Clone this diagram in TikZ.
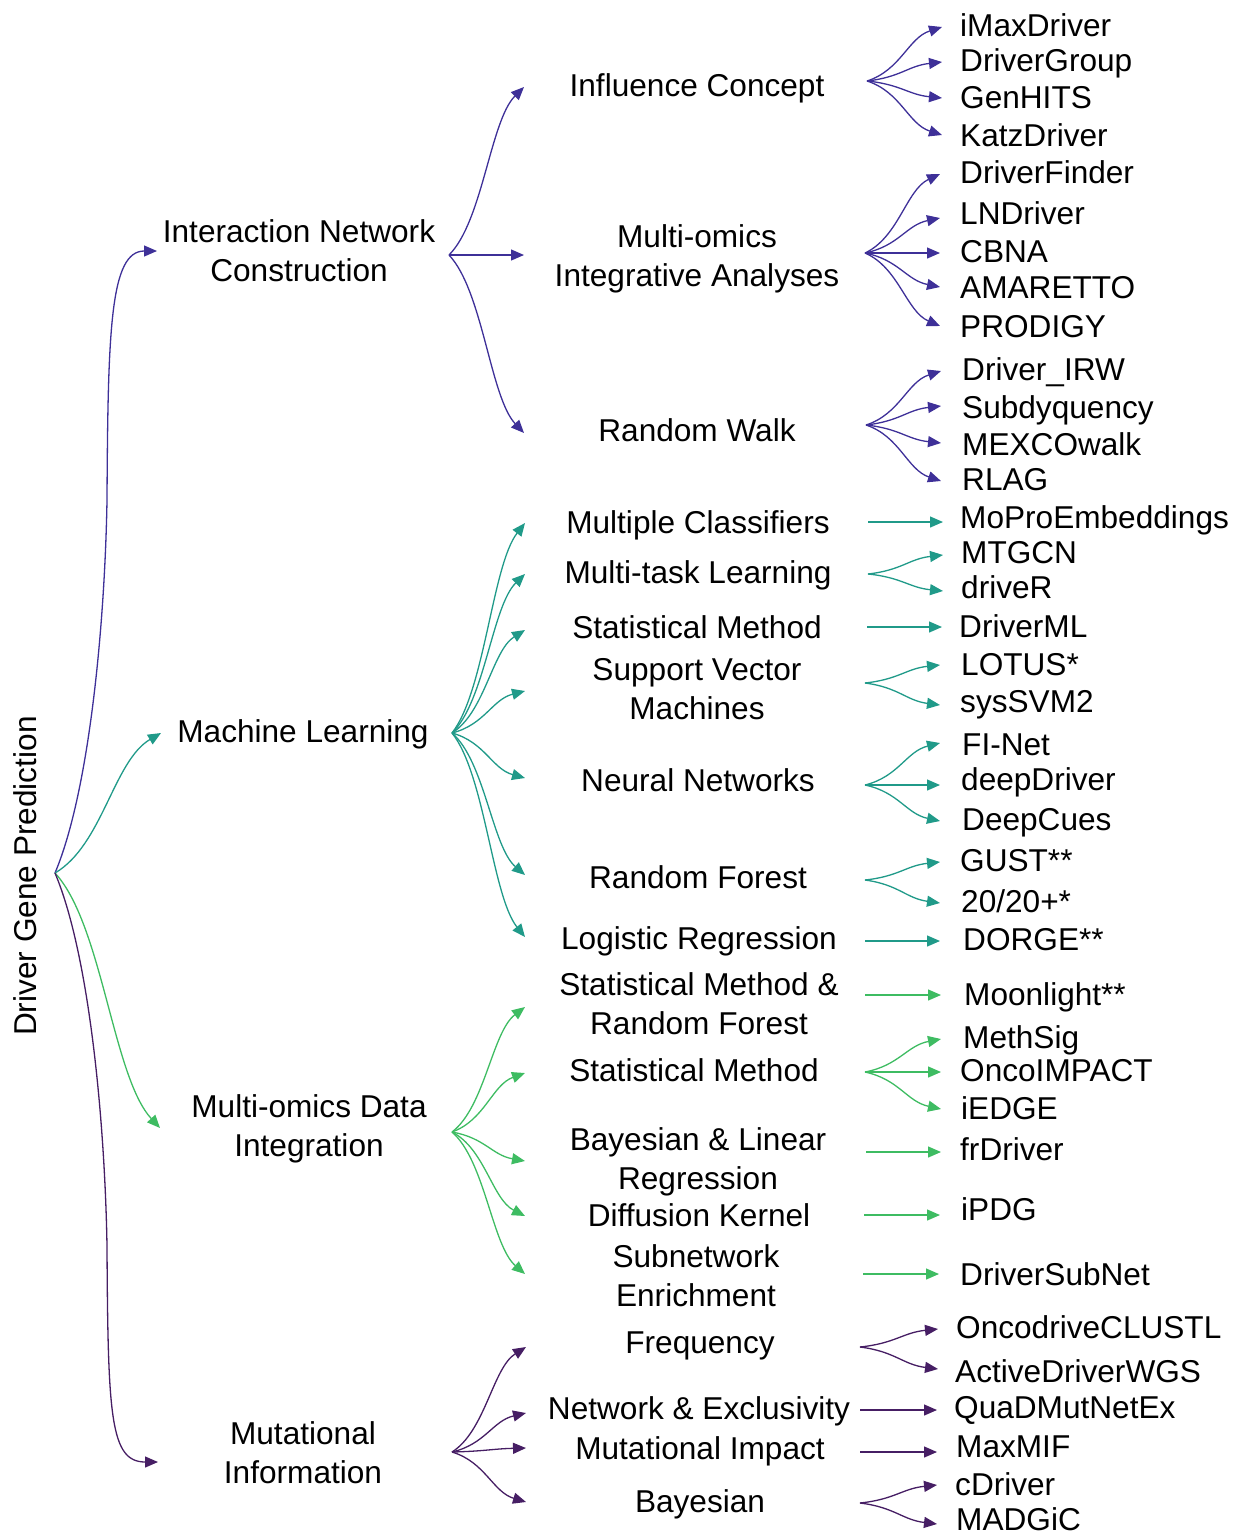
\documentclass[tikz,border=0pt]{standalone}
\usepackage{fontspec}
\setmainfont{Liberation Sans}
\usetikzlibrary{arrows.meta,calc}
\definecolor{cA}{RGB}{62,48,152}
\definecolor{cB}{RGB}{32,154,137}
\definecolor{cC}{RGB}{62,188,98}
\definecolor{cD}{RGB}{70,30,100}
\tikzset{
  lbl/.style={font=\fontsize{31.6}{39}\selectfont, inner sep=0pt, align=center},
  lf/.style={font=\fontsize{31.6}{39}\selectfont, inner sep=0pt, anchor=base west},
  arr/.style={line width=1.3pt, -{Triangle[length=13pt,width=11pt]}},
  arrA/.style={arr, draw=cA},
  arrB/.style={arr, draw=cB},
  arrC/.style={arr, draw=cC},
  arrD/.style={arr, draw=cD},
}
\newcommand\cn[3]{\draw[#1] let \p1=(#2), \p2=(#3) in (#2) .. controls +({0.45*(\x2-\x1)},{0.2*(\y2-\y1)}) and +({-0.45*(\x2-\x1)},{-0.2*(\y2-\y1)}) .. (#3);}
\begin{document}
\begin{tikzpicture}[x=1pt,y=-1pt]
\useasboundingbox (0,0) rectangle (1236,1535);

% root
\node[lbl, rotate=90, anchor=base] (root) at (36,876) {Driver Gene Prediction};
\coordinate (r) at (55,873);

% level 1
\node[lbl] (inc) at (299,251) {Interaction Network\\Construction};
\node[lbl, anchor=base] (ml) at (303,742) {Machine Learning};
\node[lbl] (mod) at (309,1129) {Multi-omics Data\\Integration};
\node[lbl] (mi) at (303,1453) {Mutational\\Information};

\coordinate (t1) at (157,251);
\coordinate (t2) at (161,733);
\coordinate (t3) at (160,1128);
\coordinate (t4) at (158,1462);
\draw[arrA] (r) .. controls +(35,-83) and +(-2,120) .. (107,500)
             .. controls +(1,-170) and +(-47,0) .. (t1);
\cn{arrB}{r}{t2}
\cn{arrC}{r}{t3}
\draw[arrD] (r) .. controls +(35,83) and +(-2,-120) .. (107,1246)
             .. controls +(1,170) and +(-48,0) .. (t4);

\coordinate (fA) at (449,255);
\coordinate (fB) at (452,733);
\coordinate (fC) at (452,1132);
\coordinate (fD) at (452,1452);

% level 2 : interaction network
\node[lbl, anchor=base] (A1) at (697,96) {Influence Concept};
\node[lbl] (A2) at (697,259) {Multi-omics\\Integrative Analyses};
\node[lbl, anchor=base] (A3) at (697,441) {Random Walk};
\coordinate (tA1) at (524,87);
\coordinate (tA2) at (524,255);
\coordinate (tA3) at (524,433);
\cn{arrA}{fA}{tA1}
\draw[arrA] (fA) -- (tA2);
\cn{arrA}{fA}{tA3}

% level 2 : machine learning
\node[lbl, anchor=base] (B1) at (698,533) {Multiple Classifiers};
\node[lbl, anchor=base] (B2) at (698,583) {Multi-task Learning};
\node[lbl, anchor=base] (B3) at (697,638) {Statistical Method};
\node[lbl] (B4) at (697,689) {Support Vector\\Machines};
\node[lbl, anchor=base] (B5) at (698,791) {Neural Networks};
\node[lbl, anchor=base] (B6) at (698,888) {Random Forest};
\node[lbl, anchor=base] (B7) at (699,949) {Logistic Regression};
\coordinate (tB1) at (525,523);
\coordinate (tB2) at (525,574);
\coordinate (tB3) at (525,630);
\coordinate (tB4) at (525,691);
\coordinate (tB5) at (525,778);
\coordinate (tB6) at (525,875);
\coordinate (tB7) at (525,937);
\foreach \t in {tB1,tB2,tB3,tB4,tB5,tB6,tB7} {\cn{arrB}{fB}{\t}}

% level 2 : multi-omics data integration
\node[lbl] (C1) at (699,1004) {Statistical Method \&\\Random Forest};
\node[lbl, anchor=base] (C2) at (694,1081) {Statistical Method};
\node[lbl] (C3) at (698,1162) {Bayesian \& Linear\\Regression};
\node[lbl, anchor=base] (C4) at (699,1226) {Diffusion Kernel};
\node[lbl] (C5) at (696,1276) {Subnetwork\\Enrichment};
\coordinate (tC1) at (525,1007);
\coordinate (tC2) at (525,1073);
\coordinate (tC3) at (525,1161);
\coordinate (tC4) at (525,1216);
\coordinate (tC5) at (525,1274);
\foreach \t in {tC1,tC2,tC3,tC4,tC5} {\cn{arrC}{fC}{\t}}

% level 2 : mutational information
\node[lbl, anchor=base] (D1) at (700,1353) {Frequency};
\node[lbl, anchor=base] (D2) at (699,1419) {Network \& Exclusivity};
\node[lbl, anchor=base] (D3) at (700,1459) {Mutational Impact};
\node[lbl, anchor=base] (D4) at (700,1512) {Bayesian};
\coordinate (tD1) at (526,1347);
\coordinate (tD2) at (526,1413);
\coordinate (tD3) at (526,1448);
\coordinate (tD4) at (526,1502);
\foreach \t in {tD1,tD2,tD3,tD4} {\cn{arrD}{fD}{\t}}

% ---------- leaves ----------
% Influence Concept
\coordinate (gA1) at (867,81);
\node[lf] (l1) at (960,36) {iMaxDriver};
\node[lf] (l2) at (960,71) {DriverGroup};
\node[lf] (l3) at (960,108) {GenHITS};
\node[lf] (l4) at (960,146) {KatzDriver};
\coordinate (u1) at (942,27);
\coordinate (u2) at (942,62);
\coordinate (u3) at (942,98);
\coordinate (u4) at (942,135);
\foreach \t in {u1,u2,u3,u4} {\cn{arrA}{gA1}{\t}}

% Multi-omics integrative analyses
\coordinate (gA2) at (865,253);
\node[lf] (l5) at (960,183) {DriverFinder};
\node[lf] (l6) at (960,224) {LNDriver};
\node[lf] (l7) at (960,262) {CBNA};
\node[lf] (l8) at (960,298) {AMARETTO};
\node[lf] (l9) at (960,337) {PRODIGY};
\coordinate (u5) at (940,174);
\coordinate (u6) at (940,218);
\coordinate (u7) at (940,253);
\coordinate (u8) at (940,287);
\coordinate (u9) at (940,326);
\foreach \t in {u5,u6,u8,u9} {\cn{arrA}{gA2}{\t}}
\draw[arrA] (gA2) -- (u7);

% Random walk
\coordinate (gA3) at (866,425);
\node[lf] (l10) at (962,380) {Driver\_IRW};
\node[lf] (l11) at (962,418) {Subdyquency};
\node[lf] (l12) at (962,455) {MEXCOwalk};
\node[lf] (l13) at (962,490) {RLAG};
\coordinate (u10) at (941,371);
\coordinate (u11) at (941,406);
\coordinate (u12) at (941,443);
\coordinate (u13) at (941,481);
\foreach \t in {u10,u11,u12,u13} {\cn{arrA}{gA3}{\t}}

% Multiple classifiers
\coordinate (gB1) at (868,522);
\node[lf] (l14) at (960,528) {MoProEmbeddings};
\coordinate (u14) at (943,522);
\draw[arrB] (gB1) -- (u14);

% Multi-task learning
\coordinate (gB2) at (868,574);
\node[lf] (l15) at (961,563) {MTGCN};
\node[lf] (l16) at (961,598) {driveR};
\coordinate (u15) at (943,555);
\coordinate (u16) at (943,591);
\cn{arrB}{gB2}{u15}
\cn{arrB}{gB2}{u16}

% Statistical method
\coordinate (gB3) at (867,627);
\node[lf] (l17) at (959,637) {DriverML};
\coordinate (u17) at (942,627);
\draw[arrB] (gB3) -- (u17);

% SVM
\coordinate (gB4) at (865,683);
\node[lf] (l18) at (961,675) {LOTUS*};
\node[lf] (l19) at (960,712) {sysSVM2};
\coordinate (u18) at (940,665);
\coordinate (u19) at (940,705);
\cn{arrB}{gB4}{u18}
\cn{arrB}{gB4}{u19}

% Neural networks
\coordinate (gB5) at (865,785);
\node[lf] (l20) at (962,755) {FI-Net};
\node[lf] (l21) at (961,790) {deepDriver};
\node[lf] (l22) at (962,830) {DeepCues};
\coordinate (u20) at (940,743);
\coordinate (u21) at (940,785);
\coordinate (u22) at (940,821);
\cn{arrB}{gB5}{u20}
\draw[arrB] (gB5) -- (u21);
\cn{arrB}{gB5}{u22}

% Random forest
\coordinate (gB6) at (865,880);
\node[lf] (l23) at (960,871) {GUST**};
\node[lf] (l24) at (961,912) {20/20+*};
\coordinate (u23) at (940,862);
\coordinate (u24) at (940,903);
\cn{arrB}{gB6}{u23}
\cn{arrB}{gB6}{u24}

% Logistic regression
\coordinate (gB7) at (865,941);
\node[lf] (l25) at (963,950) {DORGE**};
\coordinate (u25) at (940,941);
\draw[arrB] (gB7) -- (u25);

% Statistical method & random forest
\coordinate (gC1) at (865,995);
\node[lf] (l26) at (964,1005) {Moonlight**};
\coordinate (u26) at (941,995);
\draw[arrC] (gC1) -- (u26);

% Statistical method (2)
\coordinate (gC2) at (865,1072);
\node[lf] (l27) at (963,1048) {MethSig};
\node[lf] (l28) at (960,1081) {OncoIMPACT};
\node[lf] (l29) at (961,1119) {iEDGE};
\coordinate (u27) at (941,1039);
\coordinate (u28) at (941,1072);
\coordinate (u29) at (941,1109);
\cn{arrC}{gC2}{u27}
\draw[arrC] (gC2) -- (u28);
\cn{arrC}{gC2}{u29}

% Bayesian & linear regression
\coordinate (gC3) at (866,1152);
\node[lf] (l30) at (960,1160) {frDriver};
\coordinate (u30) at (941,1152);
\draw[arrC] (gC3) -- (u30);

% Diffusion kernel
\coordinate (gC4) at (864,1215);
\node[lf] (l31) at (961,1220) {iPDG};
\coordinate (u31) at (940,1215);
\draw[arrC] (gC4) -- (u31);

% Subnetwork enrichment
\coordinate (gC5) at (863,1274);
\node[lf] (l32) at (960,1285) {DriverSubNet};
\coordinate (u32) at (939,1274);
\draw[arrC] (gC5) -- (u32);

% Frequency
\coordinate (gD1) at (860,1347);
\node[lf] (l33) at (956,1338) {OncodriveCLUSTL};
\node[lf] (l34) at (955,1382) {ActiveDriverWGS};
\coordinate (u33) at (938,1329);
\coordinate (u34) at (938,1369);
\cn{arrD}{gD1}{u33}
\cn{arrD}{gD1}{u34}

% Network & exclusivity
\coordinate (gD2) at (860,1410);
\node[lf] (l35) at (954,1418) {QuaDMutNetEx};
\coordinate (u35) at (937,1410);
\draw[arrD] (gD2) -- (u35);

% Mutational impact
\coordinate (gD3) at (860,1452);
\node[lf] (l36) at (956,1457) {MaxMIF};
\coordinate (u36) at (937,1452);
\draw[arrD] (gD3) -- (u36);

% Bayesian
\coordinate (gD4) at (860,1503);
\node[lf] (l37) at (955,1495) {cDriver};
\node[lf] (l38) at (956,1530) {MADGiC};
\coordinate (u37) at (937,1485);
\coordinate (u38) at (937,1524);
\cn{arrD}{gD4}{u37}
\cn{arrD}{gD4}{u38}
\end{tikzpicture}
\end{document}
